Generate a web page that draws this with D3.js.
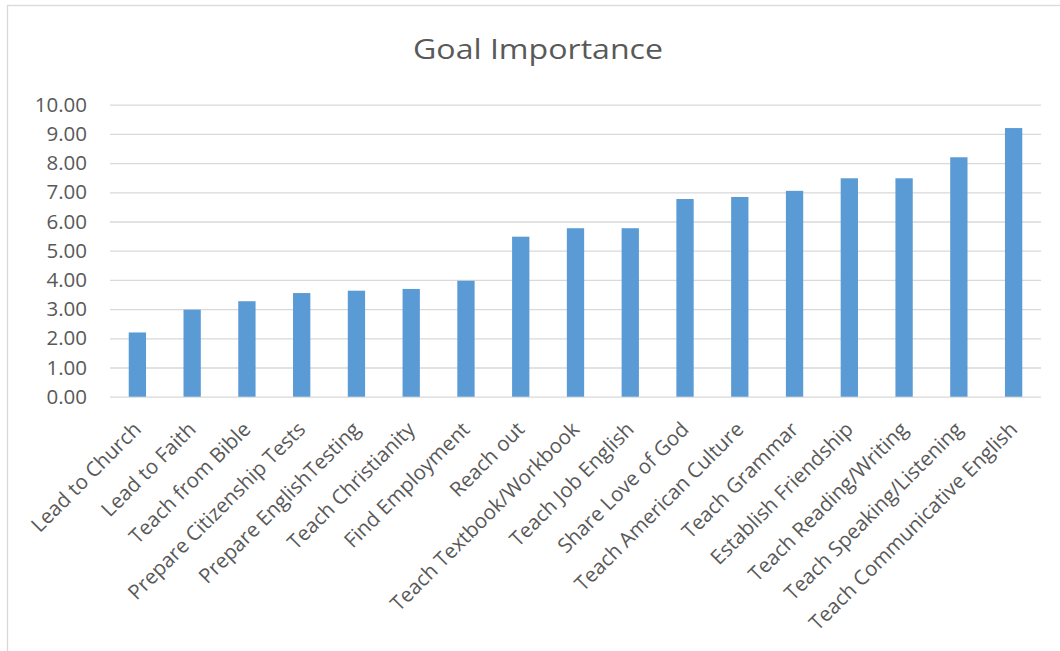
<!DOCTYPE html>
<html>
<head>
<meta charset="utf-8">
<script src="https://cdn.jsdelivr.net/npm/d3@7"></script>
<style>
  body { margin: 0; background: #fff; }
  text { font-family: "Open Sans", "Liberation Sans", sans-serif; fill: #595959; }
</style>
</head>
<body>
<div id="mydiv"></div>
<script>
let goals = ['Lead to Church', 'Lead to Faith', 'Teach from Bible', 'Prepare Citizenship Tests',
  'Prepare EnglishTesting', 'Teach Christianity', 'Find Employment', 'Reach out',
  'Teach Textbook/Workbook', 'Teach Job English', 'Share Love of God', 'Teach American Culture',
  'Teach Grammar', 'Establish Friendship', 'Teach Reading/Writing', 'Teach Speaking/Listening',
  'Teach Communicative English'];
let importance = [2.20, 2.98, 3.27, 3.55, 3.63, 3.69, 3.97, 5.48, 5.77, 5.77, 6.77, 6.84, 7.05, 7.48, 7.48, 8.20, 9.20];
let yTicks = [0, 1, 2, 3, 4, 5, 6, 7, 8, 9, 10];

let buildChart = () =>
{
	let width = 1060;
	let height = 651;
	let left = 110, right = 1041, top = 104.7, bottom = 396.7;

	let svg = d3.select('#mydiv')
	  .append('svg')
	  .attr('width', width)
	  .attr('height', height);

	// chart frame, runs off the right and bottom edge like the screenshot
	svg.append('rect')
	   .attr('x', 7.5).attr('y', 5.5)
	   .attr('width', 1100).attr('height', 700)
	   .style('fill', 'none')
	   .style('stroke', '#d9d9d9')
	   .style('stroke-width', 1.3);

	svg.append('text')
	   .attr('x', 538)
	   .attr('y', 59)
	   .attr('text-anchor', 'middle')
	   .attr('textLength', 250)
	   .attr('lengthAdjust', 'spacingAndGlyphs')
	   .style('font-size', '27px')
	   .text('Goal Importance');

	let x = d3.scaleBand()
	  .domain(goals)
	  .range([left, right])
	  .paddingInner(0.684)
	  .paddingOuter(0.342);

	let y = d3.scaleLinear()
	  .domain([0, 10])
	  .range([bottom, top]);

	let yAxis = svg.append('g')
	  .attr('transform', 'translate(' + left + ',0)')
	  .call(d3.axisLeft(y).tickValues(yTicks).tickFormat(d3.format('.2f'))
	          .tickSize(-(right - left)).tickPadding(23));
	yAxis.select('.domain').remove();
	yAxis.selectAll('line').style('stroke', '#d9d9d9').style('stroke-width', 1.3);
	yAxis.selectAll('text').style('font-size', '20.5px').style('fill', '#595959');

	svg.selectAll('rect.bar')
	   .data(importance)
	   .enter()
	   .append('rect')
	   .attr('class', 'bar')
	   .attr('x', (d, i) => x(goals[i]))
	   .attr('y', d => y(d))
	   .attr('width', x.bandwidth())
	   .attr('height', d => y(0) - y(d))
	   .style('fill', '#5b9bd5');

	svg.selectAll('text.xlab')
	   .data(goals)
	   .enter()
	   .append('text')
	   .attr('class', 'xlab')
	   .attr('text-anchor', 'end')
	   .attr('transform', d => 'translate(' + (x(d) + x.bandwidth() / 2 + 5) + ',' + (bottom + 34) + ') rotate(-45)')
	   .style('font-size', '20.5px')
	   .text(d => d);
}

buildChart();
</script>
</body>
</html>
